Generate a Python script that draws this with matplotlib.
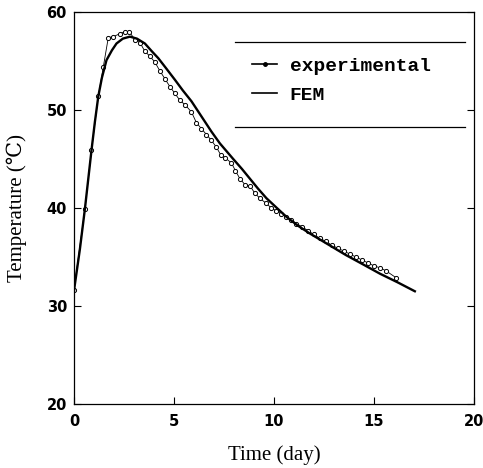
import matplotlib
matplotlib.use("Agg")
import matplotlib.pyplot as plt
from matplotlib.lines import Line2D

# experimental data (day, temperature)
exp_x = [0, 0.55, 0.88, 1.22, 1.47, 1.72, 1.97, 2.3, 2.55, 2.77, 3.05, 3.3, 3.55, 3.8,
         4.05, 4.3, 4.55, 4.8, 5.05, 5.3, 5.58, 5.88, 6.13, 6.38, 6.63, 6.88, 7.13, 7.35,
         7.58, 7.88, 8.08, 8.3, 8.55, 8.83, 9.05, 9.3, 9.6, 9.88, 10.13, 10.38, 10.63,
         10.88, 11.13, 11.4, 11.7, 12.0, 12.3, 12.6, 12.9, 13.2, 13.5, 13.8, 14.1, 14.4,
         14.7, 15.0, 15.3, 15.6, 16.1]
exp_y = [31.6, 39.9, 45.9, 51.4, 54.4, 57.4, 57.5, 57.8, 58.0, 58.0, 57.2, 56.9, 56.0, 55.5,
         54.9, 54.0, 53.2, 52.4, 51.7, 51.0, 50.5, 49.8, 48.7, 48.1, 47.5, 46.9, 46.2, 45.4,
         45.1, 44.6, 43.8, 43.0, 42.4, 42.2, 41.5, 41.0, 40.5, 40.0, 39.7, 39.4, 39.05,
         38.8, 38.4, 38.1, 37.7, 37.3, 36.9, 36.6, 36.2, 35.9, 35.6, 35.3, 35.0, 34.7,
         34.4, 34.1, 33.9, 33.6, 32.9]

# FEM simulation
fem_x = [0, 0.3, 0.55, 0.88, 1.05, 1.22, 1.4, 1.63, 1.9, 2.13, 2.45, 2.8, 3.15, 3.55,
         3.9, 4.22, 4.6, 5.05, 5.45, 5.88, 6.3, 6.88, 7.3, 7.97, 8.4, 8.8, 9.2, 9.63,
         10.1, 10.63, 11.2, 11.8, 12.7, 13.6, 14.5, 15.3, 16.2, 17.05]
fem_y = [31.5, 35.8, 39.9, 45.9, 48.8, 51.4, 53.3, 55.1, 56.1, 56.8, 57.3, 57.5, 57.3, 56.8,
         56.0, 55.3, 54.3, 53.1, 52.0, 50.9, 49.6, 47.8, 46.6, 45.0, 44.0, 43.0, 42.0, 41.0,
         40.1, 39.1, 38.2, 37.4, 36.3, 35.2, 34.2, 33.3, 32.4, 31.5]

x_ticks = [0, 5, 10, 15, 20]
y_ticks = [20, 30, 40, 50, 60]
labels = ["experimental", "FEM"]

fig = plt.figure(figsize=(4.83, 4.68), dpi=100)
ax = fig.add_axes([0.153, 0.137, 0.828, 0.837])

ax.plot(exp_x, exp_y, color="black", lw=0.6, marker="o", ms=3.0,
        mfc="white", mec="black", mew=0.7)
ax.plot(fem_x, fem_y, color="black", lw=1.7, solid_joinstyle="round")

ax.set_xlim(0, 20)
ax.set_ylim(20, 60)
ax.set_xticks(x_ticks)
ax.set_yticks(y_ticks)
ax.tick_params(direction="in", length=5, width=0.8, right=True, top=False,
               labelsize=10.5)
ax.tick_params(axis="x", pad=7)
ax.tick_params(axis="y", pad=5)
for lab in ax.get_xticklabels() + ax.get_yticklabels():
    lab.set_fontweight("bold")
for s in ax.spines.values():
    s.set_linewidth(0.9)

serif = ["Liberation Serif", "DejaVu Serif"]
ax.set_xlabel("Time (day)", family=serif, fontsize=15, labelpad=12)
ax.set_ylabel("Temperature (℃)", family=serif, fontsize=15, labelpad=14)

# legend block with rules above and below
ax.add_line(Line2D([0.402, 0.977], [0.924, 0.924], transform=ax.transAxes,
                   color="black", lw=0.9))
ax.add_line(Line2D([0.402, 0.977], [0.706, 0.706], transform=ax.transAxes,
                   color="black", lw=0.9))
h1 = Line2D([], [], color="black", lw=1.2, marker="o", ms=2.5, mfc="black")
h2 = Line2D([], [], color="black", lw=1.2)
ax.legend([h1, h2], labels, loc="upper left",
          bbox_to_anchor=(0.445, 0.885), frameon=False,
          prop={"family": "Liberation Mono", "weight": "bold", "size": 14},
          handlelength=1.3, handletextpad=0.65, labelspacing=0.6,
          borderaxespad=0, borderpad=0)

fig.savefig("out.png", dpi=100)
